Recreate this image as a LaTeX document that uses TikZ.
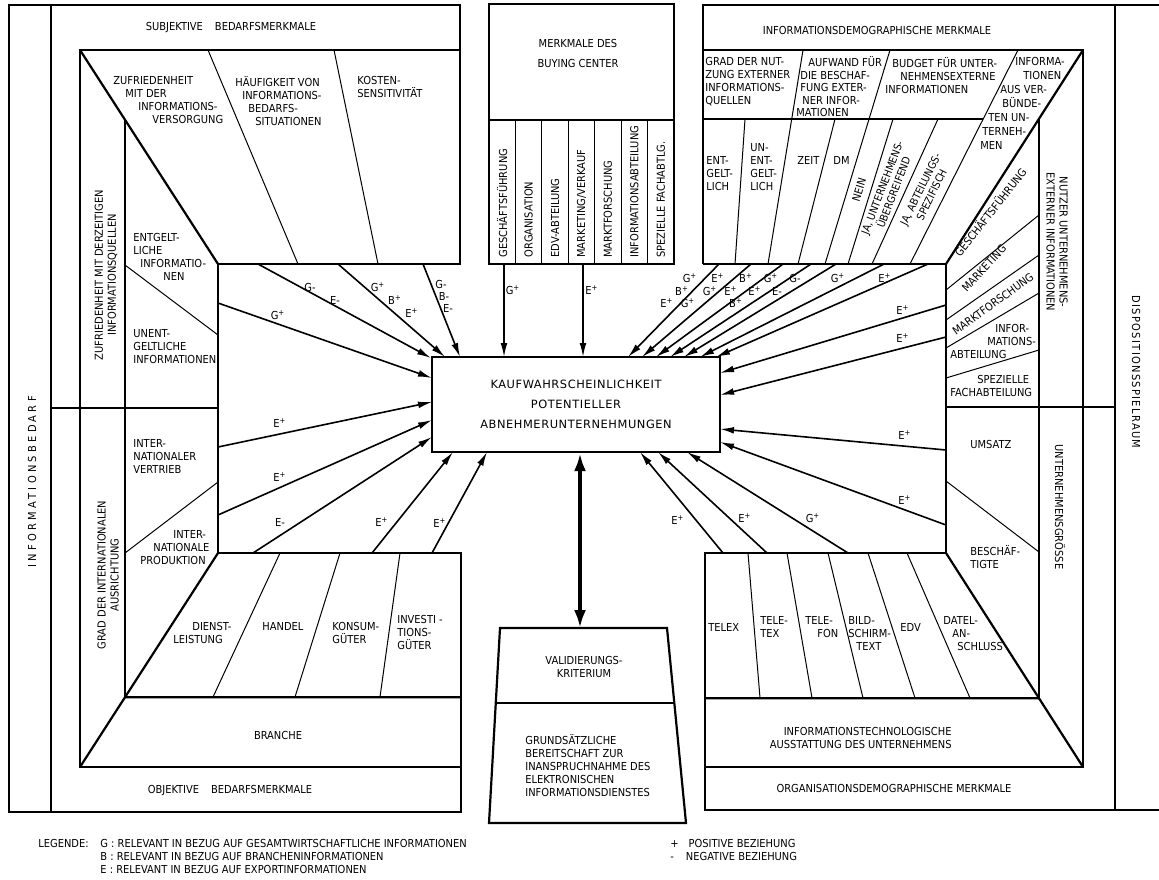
\documentclass[tikz,border=0pt]{standalone}
\usepackage{fontspec}
\setmainfont{DejaVu Sans Condensed}
\newfontfamily\boxfont[LetterSpace=5]{DejaVu Sans}
\usetikzlibrary{arrows.meta,calc}
\newcommand{\pl}{\textsuperscript{+}}
\newcommand{\mn}{-}
\tikzset{
  frame/.style={line width=1.1pt},
  thin/.style={line width=0.5pt},
  arr/.style={line width=0.8pt, -{Latex[length=7pt,width=3.4pt]}},
  txt/.style={font=\fontsize{5.5}{6.5}\selectfont, inner sep=0pt, align=left},
  lbl/.style={font=\fontsize{5.5}{6.5}\selectfont, inner sep=0pt},
}
\begin{document}
\begin{tikzpicture}[x=0.5pt, y=-0.5pt]
\useasboundingbox (0,0) rectangle (1159,879);
\coordinate (fTL) at (80,50);
\coordinate (fTR) at (1083,50);
\coordinate (fBL) at (80,767);
\coordinate (fBR) at (1083,767);
\coordinate (bTL) at (218,264);
\coordinate (bTR) at (946,264);
\coordinate (bBL) at (218,553);
\coordinate (bBR) at (946,553);
\coordinate (sTL) at ($(fTL)!0.326!(bTL)$);
\coordinate (sBL) at ($(fBL)!0.326!(bBL)$);
\coordinate (sTR) at ($(fTR)!0.321!(bTR)$);
\coordinate (sBR) at ($(fBR)!0.321!(bBR)$);

\draw[frame] (9,5) rectangle (51,812);
\draw[frame] (51,5) -- (460,5) -- (460,264) -- (bTL) -- (bBL) -- (461,553) -- (461,812) -- (51,812);
\draw[frame] (51,408) -- (218,408);
\draw[frame] (703,264) -- (703,5) -- (1159,5);
\draw[frame] (1115,5) -- (1115,810);
\draw[frame] (703,264) -- (bTR) -- (bBR) -- (705,553) -- (705,810) -- (1159,810);
\draw[frame] (946,407) -- (1115,407);
\draw[frame] (489,4) rectangle (674,264);
\draw[frame] (489,120) -- (674,120);
\foreach \i in {1,...,6} \draw[thin] (489+26.43*\i,120) -- (489+26.43*\i,264);

\draw[frame] (460,50) -- (fTL) -- (fBL) -- (461,767);
\draw[frame] (703,50) -- (fTR) -- (fBR) -- (705,767);
\draw[frame] (fTL) -- (bTL) (fTR) -- (bTR) (fBL) -- (bBL) (fBR) -- (bBR);
\draw[frame] (sTL) -- (sBL) (sTR) -- (sBR);
\draw[frame] (sBL) -- (461,697.2);
\draw[frame] (705,698.3) -- (sBR);
\draw[frame] (703,119) -- (983,119);

\draw[thin] (208,50) -- (298,264) (334,50) -- (378,264);
\draw[thin] (125,265) -- (218,335) (125,553) -- (218,482);
\draw[thin] (280,553) -- (213,697) (340,553) -- (295,697) (400,553) -- (380,697);
\draw[thin] (748,553) -- (760,698) (787,553) -- (812,698) (828,553) -- (863,698) (868,553) -- (915,698) (907,553) -- (970,698);
\draw[thin] (946,481) -- (1039,552);
\draw[thin] (946,290) -- (1039,215) (946,320) -- (1039,255) (946,348) -- (1039,293) (946,378) -- (1039,350);
\draw[thin] (745,119) -- (735,264) (803,50) -- (768,264) (835,119) -- (798,264) (890,50) -- (825,264) (893,119) -- (848,264) (938,119) -- (872,264) (1018,50) -- (910,264);

\node[draw, line width=1.1pt, minimum width=144pt, minimum height=47.5pt, inner sep=0pt, align=center, font=\boxfont\fontsize{5.7}{10}\selectfont] (kw) at (576,404.5) {KAUFWAHRSCHEINLICHKEIT\\POTENTIELLER\\ABNEHMERUNTERNEHMUNGEN};

\foreach \n/\sx/\sy/\tx/\ty in {l1/258/264/431/358, l2/338/264/445/357, l3/423/264/460/357,
  l4/218/303/432/378, l5/218/447/432/402, l6/218/515/432/420, l7/253/553/432/437,
  l8/372/553/453/452, l9/432/553/487/452, t1/504/264/504/357, t2/583/264/583/357,
  a1/719/264/628/357, a2/751/264/642/357, a3/783/264/656/357, a4/811/264/670/357,
  a5/836/264/684/357, a6/884/264/700/357, a7/928/264/716/357,
  r1/946/305/720/373, r2/946/337/720/395, r3/946/450/720/429, r4/946/525/720/442,
  b1/723/553/640/452, b2/767/553/658/452, b3/848/553/687/452}{
  \coordinate (\n s) at (\sx,\sy);
  \coordinate (\n t) at (\tx,\ty);
  \draw[arr] (\n s) -- (\n t);
}

\foreach \x/\y/\t in {310/287/G\mn, 335/300/E\mn, 378/287/G\pl, 395/300/B\pl, 412/313/E\pl,
  441/284/G\mn, 444/296/B\mn, 448/308/E\mn, 278/315/G\pl, 280/423/E\pl, 280/477/E\pl,
  280/522/E\mn, 382/522/E\pl, 440/523/E\pl, 513/290/G\pl, 592/290/E\pl,
  690/278/G\pl, 718/278/E\pl, 746/278/B\pl, 771/278/G\pl, 795/278/G\mn, 838/278/G\pl, 885/278/E\pl,
  682/291/B\pl, 710/291/G\pl, 731/291/E\pl, 755/291/E\pl, 777/291/E\mn,
  667/303/E\pl, 688/303/G\pl, 736/303/B\pl,
  903/310/E\pl, 903/338/E\pl, 905/435/E\pl, 905/500/E\pl,
  678/520/E\pl, 745/518/E\pl, 813/518/G\pl}
  \node[lbl] (lab-\x-\y) at (\x,\y) {\t};

\coordinate (vTL) at (500,628);
\coordinate (vTR) at (667,628);
\coordinate (vBR) at (686,823);
\coordinate (vBL) at (489,823);
\draw[frame] (vTL) -- (vTR) -- (vBR) -- (vBL) -- cycle;
\draw[frame] ($(vTL)!0.385!(vBL)$) -- ($(vTR)!0.385!(vBR)$);
\coordinate (vtop) at (580,628);
\draw[line width=2.2pt, {Latex[length=9pt,width=6pt]}-{Latex[length=9pt,width=6pt]}] (kw.south -| vtop) -- (vtop);
\node[txt, align=center] (val) at (584,667) {VALIDIERUNGS-\\KRITERIUM};
\node[txt, anchor=north west] (bereit) at (525,734) {GRUNDSÄTZLICHE\\BEREITSCHAFT ZUR\\INANSPRUCHNAHME DES\\ELEKTRONISCHEN\\INFORMATIONSDIENSTES};

\node[txt] (subj) at (231,28) {SUBJEKTIVE\hspace{6pt}BEDARFSMERKMALE};
\node[txt, anchor=north west] (zuf) at (113,76) {ZUFRIEDENHEIT\\\hspace*{6pt}MIT DER\\\hspace*{12.5pt}INFORMATIONS-\\\hspace*{19.5pt}VERSORGUNG};
\node[txt, anchor=north west] (haeuf) at (235,76) {HÄUFIGKEIT VON\\\hspace*{3.5pt}INFORMATIONS-\\\hspace*{6.5pt}BEDARFS-\\\hspace*{10pt}SITUATIONEN};
\node[txt, anchor=north west] (kost) at (357,76) {KOSTEN-\\SENSITIVITÄT};
\node[txt, rotate=90, align=center] (zufq) at (106,275) {ZUFRIEDENHEIT MIT DERZEITIGEN\\INFORMATIONSQUELLEN};
\node[txt, rotate=90, align=center] (grad) at (108,575) {GRAD DER INTERNATIONALEN\\AUSRICHTUNG};
\node[txt, anchor=north west] (entg) at (133,233) {ENTGELT-\\LICHE\\\hspace*{3.5pt}INFORMATIO-\\\hspace*{15pt}NEN};
\node[txt, anchor=north west] (unentg) at (133,329) {UNENT-\\GELTLICHE\\INFORMATIONEN};
\node[txt, anchor=north west] (intv) at (133,439) {INTER-\\NATIONALER\\VERTRIEB};
\node[txt, anchor=north west] (intp) at (140,530) {\hspace*{16.5pt}INTER-\\\hspace*{6.5pt}NATIONALE\\PRODUKTION};
\node[txt, anchor=north west] (dienst) at (173,622) {\hspace*{9.5pt}DIENST-\\LEISTUNG};
\node[txt, anchor=west] (handel) at (262,626) {HANDEL};
\node[txt, anchor=north west] (konsum) at (332,622) {KONSUM-\\GÜTER};
\node[txt, anchor=north west] (invest) at (397,615) {INVESTI -\\TIONS-\\GÜTER};
\node[txt] (branche) at (278,735) {BRANCHE};
\node[txt] (objekt) at (230,790) {OBJEKTIVE\hspace{6pt}BEDARFSMERKMALE};
\node[txt, rotate=90] (infobed) at (32,482) {\addfontfeature{LetterSpace=30}INFORMATIONSBEDARF};

\node[txt, align=center, font=\fontsize{5.5}{10}\selectfont] (bcenter) at (578,53) {MERKMALE DES\\BUYING CENTER};
\foreach \t [count=\i from 0] in {GESCHÄFTSFÜHRUNG, ORGANISATION, EDV-ABTEILUNG, MARKETING/VERKAUF, MARKTFORSCHUNG, INFORMATIONSABTEILUNG, SPEZIELLE FACHABTLG.}
  \node[txt, rotate=90, anchor=west] (bc\i) at (502.2+26.43*\i,258) {\t};

\node[txt] (infodemo) at (877,30) {INFORMATIONSDEMOGRAPHISCHE MERKMALE};
\node[txt, anchor=north west] (gradn) at (705,57) {GRAD DER NUT-\\ZUNG EXTERNER\\INFORMATIONS-\\QUELLEN};
\node[txt, anchor=north west, font=\fontsize{5.5}{6.3}\selectfont] (aufw) at (796,56) {\hspace*{6pt}AUFWAND FÜR\\\hspace*{2pt}DIE BESCHAF-\\\hspace*{2pt}FUNG EXTER-\\\hspace*{3pt}NER INFOR-\\MATIONEN};
\node[txt, anchor=north west] (budget) at (885,57) {\hspace*{3.5pt}BUDGET FÜR UNTER-\\\hspace*{7.5pt}NEHMENSEXTERNE\\INFORMATIONEN};
\node[txt, anchor=north west, font=\fontsize{5.5}{7}\selectfont] (verb) at (980,57) {\hspace*{17.5pt}INFORMA-\\\hspace*{21.5pt}TIONEN\\\hspace*{10pt}AUS VER-\\\hspace*{11pt}BÜNDE-\\\hspace*{4pt}TEN UN-\\\hspace*{1pt}TERNEH-\\MEN};
\node[txt, anchor=north west] (entgl) at (706,156) {ENT-\\GELT-\\LICH};
\node[txt, anchor=north west] (unentgl) at (750,143) {UN-\\ENT-\\GELT-\\LICH};
\node[txt, anchor=west] (zeit) at (797,160) {ZEIT};
\node[txt, anchor=west] (dm) at (833,160) {DM};
\node[txt, rotate=73] (nein) at (859,190) {NEIN};
\node[txt, rotate=69, align=center, font=\fontsize{5.3}{6.2}\selectfont] (jaunt) at (888,190) {JA, UNTERNEHMENS-\\ÜBERGREIFEND};
\node[txt, rotate=64, align=center, font=\fontsize{5.3}{6.2}\selectfont] (jaabt) at (926,192) {JA, ABTEILUNGS-\\SPEZIFISCH};

\node[txt, rotate=52] (gf) at (990,212) {GESCHÄFTSFÜHRUNG};
\node[txt, rotate=47] (mkt) at (984,268) {MARKETING};
\node[txt, rotate=36] (mf) at (993,304) {MARKTFORSCHUNG};
\node[txt, anchor=north west] (infab) at (950,324) {\hspace*{22.5pt}INFOR-\\\hspace*{18.5pt}MATIONS-\\ABTEILUNG};
\node[txt, anchor=north west] (spez) at (950,375) {\hspace*{13.5pt}SPEZIELLE\\FACHABTEILUNG};
\node[txt, anchor=west] (ums) at (970,444) {UMSATZ};
\node[txt, anchor=north west] (besch) at (970,545) {BESCHÄF-\\TIGTE};
\node[txt, rotate=-90] (ugr) at (1060,507) {UNTERNEHMENSGRÖSSE};
\node[txt, rotate=-90, align=center] (nutzer) at (1057,242) {NUTZER UNTERNEHMENS-\\EXTERNER INFORMATIONEN};
\node[txt, rotate=-90] (dispo) at (1136,372) {\addfontfeature{LetterSpace=12}DISPOSITIONSSPIELRAUM};

\node[txt, anchor=west] (telex) at (708,627) {TELEX};
\node[txt, anchor=north west] (teletex) at (760,616) {TELE-\\TEX};
\node[txt, anchor=north west] (telefon) at (805,616) {TELE-\\\hspace*{6pt}FON};
\node[txt, anchor=north west] (btx) at (848,616) {BILD-\\SCHIRM-\\\hspace*{4pt}TEXT};
\node[txt, anchor=west] (edv) at (900,627) {EDV};
\node[txt, anchor=north west] (datel) at (943,616) {DATEL-\\\hspace*{4.5pt}AN-\\\hspace*{7pt}SCHLUSS};
\node[txt, align=right, anchor=north east] (itaus) at (952,727) {INFORMATIONSTECHNOLOGISCHE\\AUSSTATTUNG DES UNTERNEHMENS};
\node[txt] (orgdemo) at (894,788) {ORGANISATIONSDEMOGRAPHISCHE MERKMALE};

\node[txt, anchor=west] (leg) at (38,843) {LEGENDE:};
\node[txt, anchor=north west] (legg) at (100,839) {G : RELEVANT IN BEZUG AUF GESAMTWIRTSCHAFTLICHE INFORMATIONEN\\B : RELEVANT IN BEZUG AUF BRANCHENINFORMATIONEN\\E : RELEVANT IN BEZUG AUF EXPORTINFORMATIONEN};
\node[txt, anchor=north west] (legpm) at (670,839) {+\hspace{5pt}POSITIVE BEZIEHUNG\\-\hspace{6pt}NEGATIVE BEZIEHUNG};
\end{tikzpicture}
\end{document}
